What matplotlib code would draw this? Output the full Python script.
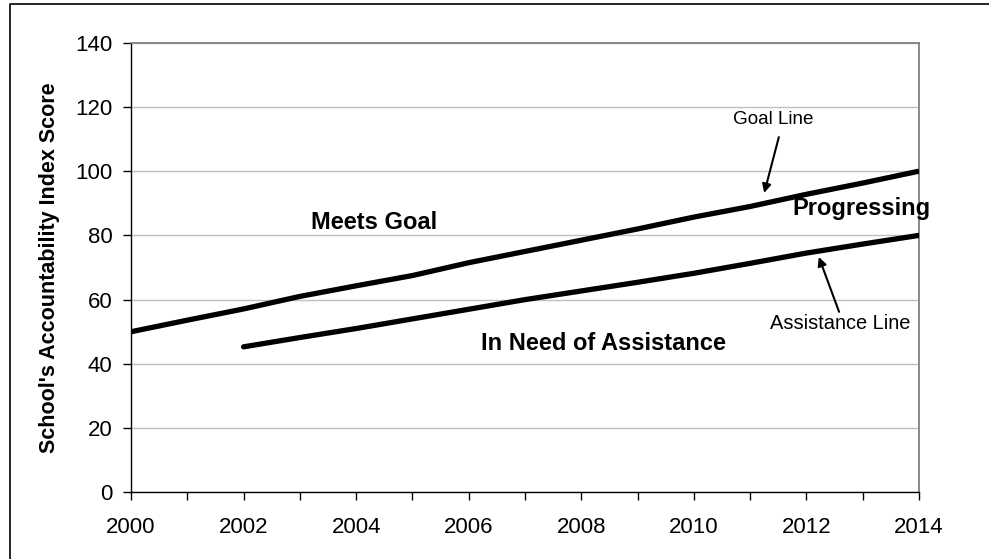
"""School accountability index: goal line vs assistance line, 2000-2014."""

import matplotlib
matplotlib.use("Agg")
import matplotlib.pyplot as plt
from matplotlib.lines import Line2D

plt.rcParams["font.family"] = ["Liberation Sans", "DejaVu Sans"]

goal_years = list(range(2000, 2015))
goal_score = [50, 53.6, 57.1, 61.0, 64.3, 67.5, 71.5, 75.0, 78.5,
              82.0, 85.7, 89.0, 92.8, 96.3, 100]

assist_years = list(range(2002, 2015))
assist_score = [45.3, 48.2, 51.0, 54.0, 57.0, 60.0, 62.7, 65.4, 68.2,
                71.3, 74.5, 77.3, 80]

y_ticks = [0, 20, 40, 60, 80, 100, 120, 140]
x_ticks = list(range(2000, 2015))
x_labels = [str(y) if y % 2 == 0 else "" for y in x_ticks]


def main():
    fig = plt.figure(figsize=(9.89, 5.59), dpi=100)
    ax = fig.add_axes([0.1325, 0.1193, 0.7967, 0.8043])

    ax.plot(goal_years, goal_score, color="black", lw=3.8,
            solid_capstyle="butt", zorder=3)
    ax.plot(assist_years, assist_score, color="black", lw=3.8,
            solid_capstyle="round", zorder=3)

    ax.set_xlim(2000, 2014)
    ax.set_ylim(0, 140)
    ax.set_yticks(y_ticks)
    ax.set_xticks(x_ticks)
    ax.set_xticklabels(x_labels)
    ax.grid(True, axis="y", color="#c0c0c0", lw=1.0)
    ax.set_axisbelow(True)

    for side in ("top", "right"):
        ax.spines[side].set_color("#808080")
        ax.spines[side].set_linewidth(1.3)
    for side in ("left", "bottom"):
        ax.spines[side].set_color("black")
        ax.spines[side].set_linewidth(1.0)

    ax.tick_params(axis="x", direction="out", length=5.5, width=1.0,
                   labelsize=16, pad=12)
    ax.tick_params(axis="y", direction="out", length=5.5, width=1.0,
                   labelsize=16, pad=8)

    ax.set_ylabel("School's Accountability Index Score", fontsize=15.5,
                  fontweight="bold", va="center")
    ax.yaxis.set_label_coords(-0.104, 0.5)

    # region labels
    bold = dict(fontsize=17, fontweight="bold", ha="center", va="center")
    ax.text(2004.32, 83.9, "Meets Goal", **bold)
    ax.text(2012.97, 88.3, "Progressing", **bold)
    ax.text(2008.40, 46.2, "In Need of Assistance", **bold)

    # line callouts
    arrow = dict(arrowstyle="-|>", color="black", lw=1.5,
                 mutation_scale=13, shrinkA=0, shrinkB=0)
    ax.text(2011.41, 116.0, "Goal Line", fontsize=13.6,
            ha="center", va="center")
    ax.annotate("", xy=(2011.25, 93.2), xytext=(2011.51, 110.6),
                arrowprops=arrow)
    ax.text(2012.60, 52.7, "Assistance Line", fontsize=14.4,
            ha="center", va="center")
    ax.annotate("", xy=(2012.22, 73.3), xytext=(2012.58, 56.2),
                arrowprops=arrow)

    # outer frame, cut off at the right and bottom edges
    fig.add_artist(Line2D([0.0106, 0.0106, 1.0], [0.0, 0.9928, 0.9928],
                          transform=fig.transFigure, color="black", lw=1.2))

    fig.savefig("out.png", dpi=100)
    plt.close(fig)


if __name__ == "__main__":
    main()
